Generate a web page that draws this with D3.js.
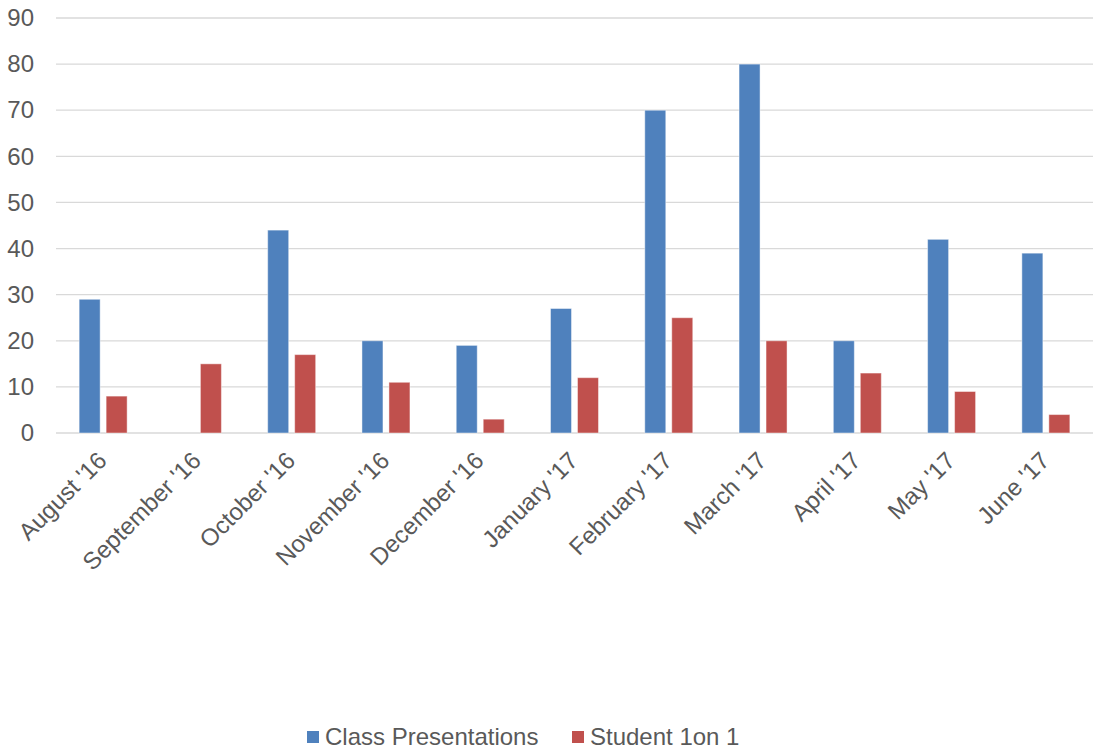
<!DOCTYPE html>
<html>
<head>
<meta charset="utf-8">
<script src="https://cdn.jsdelivr.net/npm/d3@7"></script>
<style>
  html, body { margin: 0; padding: 0; background: #fff; }
  svg { display: block; font-family: "Liberation Sans", Arial, sans-serif; }
</style>
</head>
<body>
<svg id="chart" width="1097" height="749"></svg>
<script>
const categories = ["August '16", "September '16", "October '16", "November '16", "December '16",
  "January '17", "February '17", "March '17", "April '17", "May '17", "June '17"];
const seriesNames = ["Class Presentations", "Student 1on 1"];
const classPresentations = [29, 0, 44, 20, 19, 27, 70, 80, 20, 42, 39];
const student1on1 = [8, 15, 17, 11, 3, 12, 25, 20, 13, 9, 4];
const seriesColors = ["#4f81bd", "#c0504d"];
const yTicks = [0, 10, 20, 30, 40, 50, 60, 70, 80, 90];

(function () {
const svg = d3.select("#chart");
const plotLeft = 56, plotRight = 1093, plotTop = 18, plotBottom = 433;
const textColor = "#595959";
const fontSize = 24;

const x0 = d3.scaleBand().domain(categories).range([plotLeft, plotRight])
  .paddingInner(0.491).paddingOuter(0.2455);
const x1 = d3.scaleBand().domain(seriesNames).range([0, x0.bandwidth()])
  .paddingInner(0.222).paddingOuter(0);
const y = d3.scaleLinear().domain([0, 90]).range([plotBottom, plotTop]);

// gridlines
svg.append("g").selectAll("line").data(yTicks).join("line")
  .attr("x1", plotLeft).attr("x2", plotRight)
  .attr("y1", d => y(d)).attr("y2", d => y(d))
  .attr("stroke", "#d9d9d9").attr("stroke-width", 1.3);

// y axis labels
const yAxis = d3.axisLeft(y).tickValues(yTicks).tickSize(0).tickPadding(0);
const yg = svg.append("g").attr("transform", `translate(${34},0)`).call(yAxis);
yg.select(".domain").remove();
yg.selectAll("text").attr("fill", textColor).attr("font-size", fontSize)
  .attr("font-family", "Liberation Sans, Arial, sans-serif");

// bars
const data = categories.map((c, i) => ({ cat: c, vals: [classPresentations[i], student1on1[i]] }));
const groups = svg.append("g").selectAll("g").data(data).join("g")
  .attr("transform", d => `translate(${x0(d.cat)},0)`);
groups.selectAll("rect")
  .data(d => d.vals.map((v, j) => ({ s: seriesNames[j], v, j })).filter(e => e.v > 0))
  .join("rect")
  .attr("x", e => x1(e.s))
  .attr("width", x1.bandwidth())
  .attr("y", e => y(e.v))
  .attr("height", e => y(0) - y(e.v))
  .attr("fill", e => seriesColors[e.j])
  .attr("stroke", "rgba(255,255,255,0.45)")
  .attr("stroke-width", 1);

// x axis labels
const xAxis = d3.axisBottom(x0).tickSize(0).tickPadding(0);
const xg = svg.append("g").attr("transform", `translate(0,${plotBottom})`).call(xAxis);
xg.select(".domain").remove();
xg.selectAll(".tick text")
  .attr("fill", textColor).attr("font-size", fontSize)
  .attr("font-family", "Liberation Sans, Arial, sans-serif")
  .attr("text-anchor", "end")
  .attr("dy", 0)
  .attr("y", 0)
  .attr("transform", "translate(5,29) rotate(-45)");

// legend
const legend = svg.append("g");
const legendX = [307, 572];
seriesNames.forEach((name, i) => {
  legend.append("rect").attr("x", legendX[i]).attr("y", 731)
    .attr("width", 12).attr("height", 12).attr("fill", seriesColors[i]);
  legend.append("text").attr("x", legendX[i] + 18).attr("y", 745)
    .attr("fill", textColor).attr("font-size", fontSize).text(name);
});
})();
</script>
</body>
</html>
